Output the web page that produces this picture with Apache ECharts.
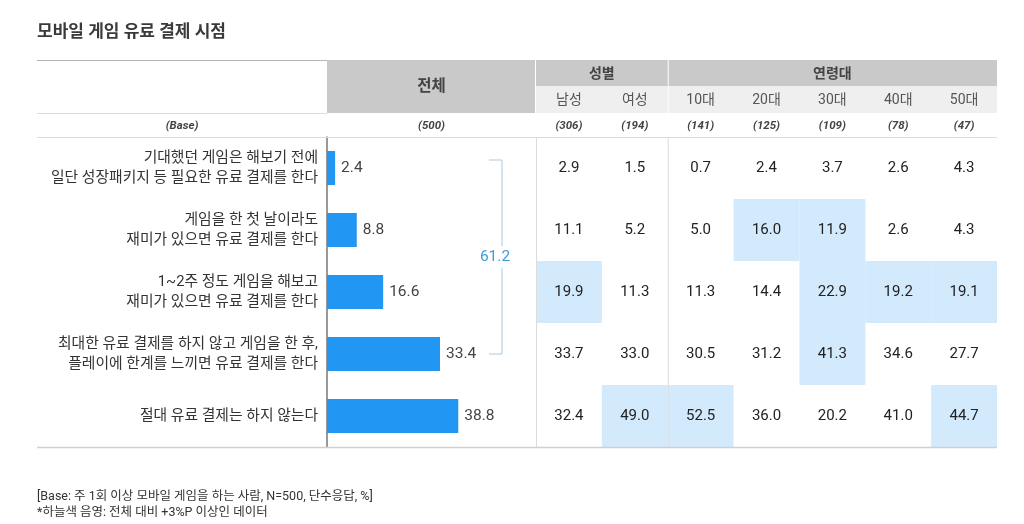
<!DOCTYPE html>
<html>
<head>
<meta charset="utf-8">
<script src="https://cdn.jsdelivr.net/npm/echarts@6/dist/echarts.min.js"></script>
<style>
  html, body { margin: 0; padding: 0; background: #fff; }
  #chart { width: 1024px; height: 524px; }
</style>
</head>
<body>
<div id="chart"></div>
<script>
const FONT = 'Roboto, "Noto Sans CJK KR", sans-serif';

// rows (answers) and total values
const items = [
    "기대했던 게임은 해보기 전에\n일단 성장패키지 등 필요한 유료 결제를 한다",
    "게임을 한 첫 날이라도\n재미가 있으면 유료 결제를 한다",
    "1~2주 정도 게임을 해보고\n재미가 있으면 유료 결제를 한다",
    "최대한 유료 결제를 하지 않고 게임을 한 후,\n플레이에 한계를 느끼면 유료 결제를 한다",
    "절대 유료 결제는 하지 않는다"
];
const totalValues = [2.4, 8.8, 16.6, 33.4, 38.8];
const totalBase = "(500)";

// table columns
const columns = ["남성", "여성", "10대", "20대", "30대", "40대", "50대"];
const columnBase = ["(306)", "(194)", "(141)", "(125)", "(109)", "(78)", "(47)"];
const groups = [{ name: "성별", span: 2 }, { name: "연령대", span: 5 }];

// values per column, one array per row
const row1 = [2.9, 1.5, 0.7, 2.4, 3.7, 2.6, 4.3];
const row2 = [11.1, 5.2, 5.0, 16.0, 11.9, 2.6, 4.3];
const row3 = [19.9, 11.3, 11.3, 14.4, 22.9, 19.2, 19.1];
const row4 = [33.7, 33.0, 30.5, 31.2, 41.3, 34.6, 27.7];
const row5 = [32.4, 49.0, 52.5, 36.0, 20.2, 41.0, 44.7];
const tableRows = [row1, row2, row3, row4, row5];

// shaded cells [row, column]
const highlighted = [[1, 3], [1, 4], [2, 0], [2, 4], [2, 5], [2, 6], [3, 4], [4, 1], [4, 2], [4, 6]];

// bracket covers rows 0..3
const bracketRows = [0, 3];

const title = "모바일 게임 유료 결제 시점";
const notes = [
    "[Base: 주 1회 이상 모바일 게임을 하는 사람, N=500, 단수응답, %]",
    "*하늘색 음영: 전체 대비 +3%P 이상인 데이터"
];

// layout
const L = 37, R = 997;
const barLeft = 327, tableLeft = 536;
const yTop = 60, ySub = 86, yBase = 113, bodyTop = 137, bodyBottom = 447;
const colW = (R - tableLeft) / columns.length;

let cellData = [];
for (let r = 0; r < tableRows.length; r++) {
    for (let c = 0; c < columns.length; c++) {
        let hl = highlighted.some(h => h[0] == r && h[1] == c) ? 1 : 0;
        cellData.push([c, r, tableRows[r][c], hl]);
    }
}

let bracketSum = 0;
for (let i = bracketRows[0]; i <= bracketRows[1]; i++) bracketSum += totalValues[i];

let graphics = [];
// title
graphics.push({ type: 'text', x: L, y: 33, style: { text: title, font: 'bold 17px ' + FONT, fill: '#3a3a3a', verticalAlign: 'middle' } });

// header backgrounds
graphics.push({ type: 'rect', shape: { x: barLeft, y: yTop, width: tableLeft - barLeft - 1, height: yBase - yTop }, style: { fill: '#c9c9c9' } });
let gx = tableLeft;
for (let g = 0; g < groups.length; g++) {
    let w = groups[g].span * colW;
    graphics.push({ type: 'rect', shape: { x: gx + (g > 0 ? 1 : 0), y: yTop, width: w - (g > 0 ? 1 : 0), height: ySub - yTop }, style: { fill: '#c9c9c9' } });
    graphics.push({ type: 'rect', shape: { x: gx + (g > 0 ? 1 : 0), y: ySub, width: w - (g > 0 ? 1 : 0), height: yBase - ySub }, style: { fill: '#efefef' } });
    graphics.push({ type: 'text', x: gx + w / 2, y: (yTop + ySub) / 2 + 1, style: { text: groups[g].name, font: 'bold 14px ' + FONT, fill: '#444', align: 'center', verticalAlign: 'middle' } });
    gx += w;
}
graphics.push({ type: 'text', x: (barLeft + tableLeft) / 2, y: (yTop + yBase) / 2 + 1, style: { text: "전체", font: 'bold 15.5px ' + FONT, fill: '#444', align: 'center', verticalAlign: 'middle' } });

for (let c = 0; c < columns.length; c++) {
    let cx = tableLeft + colW * (c + 0.5);
    graphics.push({ type: 'text', x: cx, y: (ySub + yBase) / 2 + 1, style: { text: columns[c], font: '14px ' + FONT, fill: '#555', align: 'center', verticalAlign: 'middle' } });
    graphics.push({ type: 'text', x: cx, y: (yBase + bodyTop) / 2 + 1, style: { text: columnBase[c], font: 'italic bold 11.5px ' + FONT, fill: '#444', align: 'center', verticalAlign: 'middle' } });
}
graphics.push({ type: 'text', x: (L + barLeft) / 2, y: (yBase + bodyTop) / 2 + 1, style: { text: "(Base)", font: 'italic bold 11.5px ' + FONT, fill: '#444', align: 'center', verticalAlign: 'middle' } });
graphics.push({ type: 'text', x: (barLeft + tableLeft) / 2, y: (yBase + bodyTop) / 2 + 1, style: { text: totalBase, font: 'italic bold 11.5px ' + FONT, fill: '#444', align: 'center', verticalAlign: 'middle' } });

// rules
graphics.push({ type: 'line', z: 5, shape: { x1: L, y1: yTop + 0.5, x2: barLeft, y2: yTop + 0.5 }, style: { stroke: '#b5b5b5', lineWidth: 1 } });
graphics.push({ type: 'line', z: 5, shape: { x1: L, y1: yBase + 0.5, x2: barLeft, y2: yBase + 0.5 }, style: { stroke: '#dcdcdc', lineWidth: 1 } });
graphics.push({ type: 'line', z: 5, shape: { x1: L, y1: bodyTop + 0.5, x2: R, y2: bodyTop + 0.5 }, style: { stroke: '#dcdcdc', lineWidth: 1 } });
graphics.push({ type: 'line', z: 5, shape: { x1: L, y1: bodyBottom + 0.5, x2: R, y2: bodyBottom + 0.5 }, style: { stroke: '#d0d0d0', lineWidth: 1.5 } });
graphics.push({ type: 'line', z: 5, shape: { x1: tableLeft + 0.5, y1: bodyTop, x2: tableLeft + 0.5, y2: bodyBottom }, style: { stroke: '#dcdcdc', lineWidth: 1 } });
graphics.push({ type: 'line', z: 5, shape: { x1: tableLeft + 2 * colW + 0.5, y1: bodyTop, x2: tableLeft + 2 * colW + 0.5, y2: bodyBottom }, style: { stroke: '#dcdcdc', lineWidth: 1 } });

// footnotes
for (let i = 0; i < notes.length; i++) {
    graphics.push({ type: 'text', x: L, y: 497 + i * 16, style: { text: notes[i], font: '12.5px ' + FONT, fill: '#333', verticalAlign: 'middle' } });
}

let option = {
    animation: false,
    textStyle: { fontFamily: FONT },
    graphic: graphics,
    grid: [
        { left: barLeft, top: bodyTop, width: 203, height: bodyBottom - bodyTop, containLabel: false },
        { left: tableLeft, top: bodyTop, width: R - tableLeft, height: bodyBottom - bodyTop, containLabel: false }
    ],
    xAxis: [
        { gridIndex: 0, type: 'value', min: 0, max: 60, show: false },
        { gridIndex: 1, type: 'category', data: columns, show: false }
    ],
    yAxis: [
        {
            gridIndex: 0, type: 'category', data: items, inverse: true,
            axisLine: { show: true, lineStyle: { color: '#777', width: 1.5 } },
            axisTick: { show: false },
            axisLabel: { color: '#333', fontSize: 14.8, lineHeight: 20, margin: 9, align: 'right', fontFamily: FONT }
        },
        { gridIndex: 1, type: 'category', data: items, inverse: true, show: false }
    ],
    series: [
        {
            type: 'bar', xAxisIndex: 0, yAxisIndex: 0,
            data: totalValues, barWidth: 34,
            itemStyle: { color: '#2196f3' },
            label: { show: true, position: 'right', distance: 6, color: '#444', fontSize: 15.5, fontFamily: FONT, formatter: p => p.value.toFixed(1) }
        },
        {
            type: 'custom', xAxisIndex: 0, yAxisIndex: 0,
            data: [[bracketRows[0], bracketRows[1], bracketSum]],
            renderItem: function (params, api) {
                let cs = params.coordSys;
                let y1 = api.coord([0, api.value(0)])[1] - 8;
                let y2 = api.coord([0, api.value(1)])[1];
                let x = cs.x + cs.width - 28;
                return {
                    type: 'group',
                    children: [
                        { type: 'polyline', shape: { points: [[x - 13, y1], [x, y1], [x, y2], [x - 13, y2]] }, style: { stroke: '#a9c9e2', lineWidth: 1, fill: null } },
                        { type: 'text', x: x - 7, y: (y1 + y2) / 2, style: { text: api.value(2).toFixed(1), font: '15.5px ' + FONT, fill: '#3f9bd8', align: 'center', verticalAlign: 'middle', backgroundColor: '#fff', padding: [3, 0] } }
                    ]
                };
            }
        },
        {
            type: 'custom', xAxisIndex: 1, yAxisIndex: 1,
            data: cellData,
            renderItem: function (params, api) {
                let p = api.coord([api.value(0), api.value(1)]);
                let s = api.size([1, 1]);
                let children = [];
                if (api.value(3) == 1) {
                    children.push({ type: 'rect', shape: { x: p[0] - s[0] / 2, y: p[1] - s[1] / 2, width: s[0], height: s[1] }, style: { fill: '#d3e9fc' } });
                }
                children.push({ type: 'text', x: p[0], y: p[1], style: { text: api.value(2).toFixed(1), font: '15px ' + FONT, fill: '#222', align: 'center', verticalAlign: 'middle' } });
                return { type: 'group', children: children };
            }
        }
    ]
};

let chart = echarts.init(document.getElementById('chart'));
chart.setOption(option);
</script>
</body>
</html>
